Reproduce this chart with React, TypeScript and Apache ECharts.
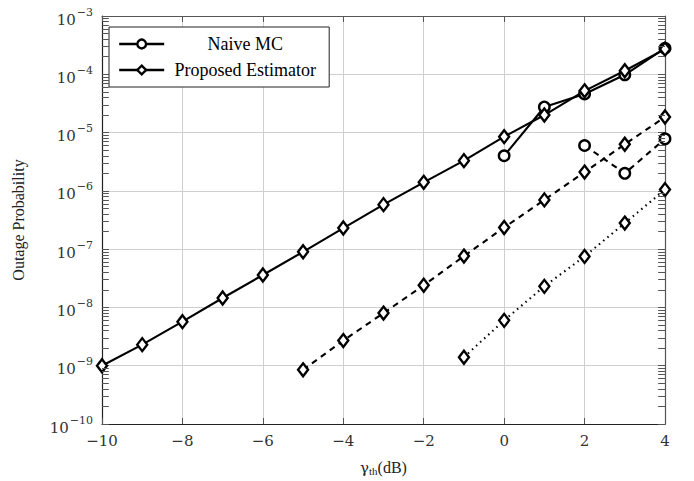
import React, { useEffect, useRef } from "react";
import * as echarts from "echarts";

// ---- data ----
const naiveX = [0, 1, 2, 3, 4];
const naiveY = [4.0e-6, 2.75e-5, 4.6e-5, 9.8e-5, 2.8e-4];

const propX = [-10, -9, -8, -7, -6, -5, -4, -3, -2, -1, 0, 1, 2, 3, 4];
const propY = [1.0e-9, 2.3e-9, 5.7e-9, 1.45e-8, 3.6e-8, 9.0e-8, 2.3e-7, 5.8e-7, 1.4e-6, 3.3e-6, 8.5e-6, 2.0e-5, 5.2e-5, 1.15e-4, 2.7e-4];

const dashPropX = [-5, -4, -3, -2, -1, 0, 1, 2, 3, 4];
const dashPropY = [8.5e-10, 2.7e-9, 8.0e-9, 2.4e-8, 7.6e-8, 2.35e-7, 7.0e-7, 2.1e-6, 6.3e-6, 1.85e-5];

const dashNaiveX = [2, 3, 4];
const dashNaiveY = [6.0e-6, 2.0e-6, 7.8e-6];

const dotPropX = [-1, 0, 1, 2, 3, 4];
const dotPropY = [1.4e-9, 6.0e-9, 2.3e-8, 7.5e-8, 2.8e-7, 1.05e-6];

const decadeExps = [-10, -9, -8, -7, -6, -5, -4, -3];
const minorMults = [2, 3, 4, 5, 6, 7, 8, 9];

const X_MIN = -10;
const X_MAX = 4;

const zip = (xs: number[], ys: number[]) => xs.map((x, i) => [x, ys[i]]);

export default function App() {
  const ref = useRef<HTMLDivElement>(null);

  useEffect(() => {
    if (!ref.current) return;
    const chart = echarts.init(ref.current, null, { renderer: "svg" });

    const minorVals: number[] = [];
    decadeExps.slice(0, -1).forEach((e) => {
      minorMults.forEach((m) => minorVals.push(m * Math.pow(10, e)));
    });

    const tickLen = 0.17;
    const minorTicks: any[] = [];
    minorVals.forEach((v) => {
      minorTicks.push([{ coord: [X_MIN, v] }, { coord: [X_MIN + tickLen, v] }]);
      minorTicks.push([{ coord: [X_MAX, v] }, { coord: [X_MAX - tickLen, v] }]);
    });

    const serif = "Liberation Serif";
    const tickFont = "DejaVu Serif";

    const diamond = {
      symbol: "diamond",
      symbolSize: [10, 13],
    };
    const circle = {
      symbol: "circle",
      symbolSize: 10.5,
    };
    const common = {
      type: "line" as const,
      z: 3,
      lineStyle: { color: "#000", width: 2.1 },
      itemStyle: { color: "#fff", borderColor: "#000", borderWidth: 2.4 },
      showSymbol: true,
    };

    const option: any = {
      animation: false,
      grid: { left: 102, right: 29, top: 16, bottom: 54 },
      legend: {
        data: ["Naive MC", "Proposed Estimator"],
        orient: "vertical",
        left: 109,
        top: 27,
        backgroundColor: "#fff",
        borderColor: "#222",
        borderWidth: 1,
        borderRadius: 0,
        padding: [8, 8, 8, 9],
        itemGap: 8,
        itemWidth: 45,
        itemHeight: 11,
        selectedMode: false,
        lineStyle: { width: 2.4, color: "#000" },
        itemStyle: { color: "#fff", borderColor: "#000", borderWidth: 2.4 },
        formatter: (name: string) => "{c|" + name + "}",
        textStyle: {
          fontFamily: serif,
          fontSize: 18,
          color: "#000",
          rich: {
            c: { width: 152, align: "center", fontFamily: serif, fontSize: 18, color: "#000", lineHeight: 19 },
          },
        },
      },
      xAxis: [
        {
          type: "value",
          min: X_MIN,
          max: X_MAX,
          interval: 2,
          name: "{g|γ}{s|th}{d|(dB)}",
          nameLocation: "middle",
          nameGap: 35,
          nameTextStyle: {
            rich: {
              g: { fontFamily: tickFont, fontSize: 15, color: "#222" },
              s: { fontFamily: serif, fontSize: 11, color: "#222", padding: [6, 0, 0, 0] },
              d: { fontFamily: serif, fontSize: 16, color: "#222" },
            },
          },
          axisLine: { show: true, onZero: false, lineStyle: { color: "#222", width: 1.2 } },
          axisTick: { show: true, inside: true, length: 6, lineStyle: { color: "#555" } },
          axisLabel: {
            fontFamily: tickFont,
            fontSize: 15,
            color: "#333",
            margin: 9,
            formatter: (v: number) => String(v).replace("-", "−"),
          },
          splitLine: { show: true, lineStyle: { color: "#cfcfcf", width: 1 } },
        },
        {
          type: "value",
          min: X_MIN,
          max: X_MAX,
          interval: 2,
          position: "top",
          axisLine: { show: true, onZero: false, lineStyle: { color: "#555", width: 1.2 } },
          axisTick: { show: true, inside: true, length: 6, lineStyle: { color: "#555" } },
          axisLabel: { show: false },
          splitLine: { show: false },
        },
      ],
      yAxis: [
        {
          type: "log",
          logBase: 10,
          min: 1e-10,
          max: 1e-3,
          name: "Outage Probability",
          nameLocation: "middle",
          nameGap: 76,
          nameTextStyle: { fontFamily: serif, fontSize: 16, color: "#222" },
          axisLine: { show: true, onZero: false, lineStyle: { color: "#222", width: 1.2 } },
          axisTick: { show: true, inside: true, length: 7, lineStyle: { color: "#555" } },
          axisLabel: {
            margin: 9,
            formatter: (v: number) => {
              const e = Math.round(Math.log10(v));
              return "{b|10}{e|" + (e < 0 ? "−" : "") + Math.abs(e) + "}";
            },
            rich: {
              b: { fontFamily: tickFont, fontSize: 15, color: "#333", padding: [7, 0, 0, 0] },
              e: { fontFamily: tickFont, fontSize: 11, color: "#333", padding: [0, 0, 8, 1] },
            },
          },
          splitLine: { show: true, lineStyle: { color: "#cfcfcf", width: 1 } },
          minorTick: { show: false },
        },
        {
          type: "log",
          logBase: 10,
          min: 1e-10,
          max: 1e-3,
          position: "right",
          axisLine: { show: true, onZero: false, lineStyle: { color: "#555", width: 1.2 } },
          axisTick: { show: true, inside: true, length: 7, lineStyle: { color: "#555" } },
          axisLabel: { show: false },
          splitLine: { show: false },
        },
      ],
      series: [
        {
          name: "grid-minor",
          type: "line",
          data: [],
          z: 1,
          silent: true,
          markLine: {
            silent: true,
            symbol: "none",
            label: { show: false },
            animation: false,
            lineStyle: { color: "#cfcfcf", width: 1, type: "solid" },
            data: minorVals.map((v) => ({ yAxis: v })),
          },
        },
        {
          name: "ticks-minor",
          type: "line",
          data: [],
          z: 2,
          silent: true,
          markLine: {
            silent: true,
            symbol: "none",
            label: { show: false },
            animation: false,
            lineStyle: { color: "#555", width: 1, type: "solid" },
            data: minorTicks,
          },
        },
        {
          ...common,
          ...circle,
          name: "Naive MC",
          data: zip(naiveX, naiveY),
        },
        {
          ...common,
          ...diamond,
          name: "Proposed Estimator",
          data: zip(propX, propY),
        },
        {
          ...common,
          ...diamond,
          name: "Proposed Estimator (dashed)",
          lineStyle: { color: "#000", width: 2.1, type: [6, 5] },
          data: zip(dashPropX, dashPropY),
        },
        {
          ...common,
          ...circle,
          name: "Naive MC (dashed)",
          lineStyle: { color: "#000", width: 2.1, type: [6, 5] },
          data: zip(dashNaiveX, dashNaiveY),
        },
        {
          ...common,
          ...diamond,
          name: "Proposed Estimator (dotted)",
          lineStyle: { color: "#000", width: 2.1, type: [1.5, 4] },
          data: zip(dotPropX, dotPropY),
        },
      ],
    };

    chart.setOption(option);
    return () => chart.dispose();
  }, []);

  return <div ref={ref} style={{ width: 694, height: 481, position: "absolute", left: 0, top: 0 }} />;
}
